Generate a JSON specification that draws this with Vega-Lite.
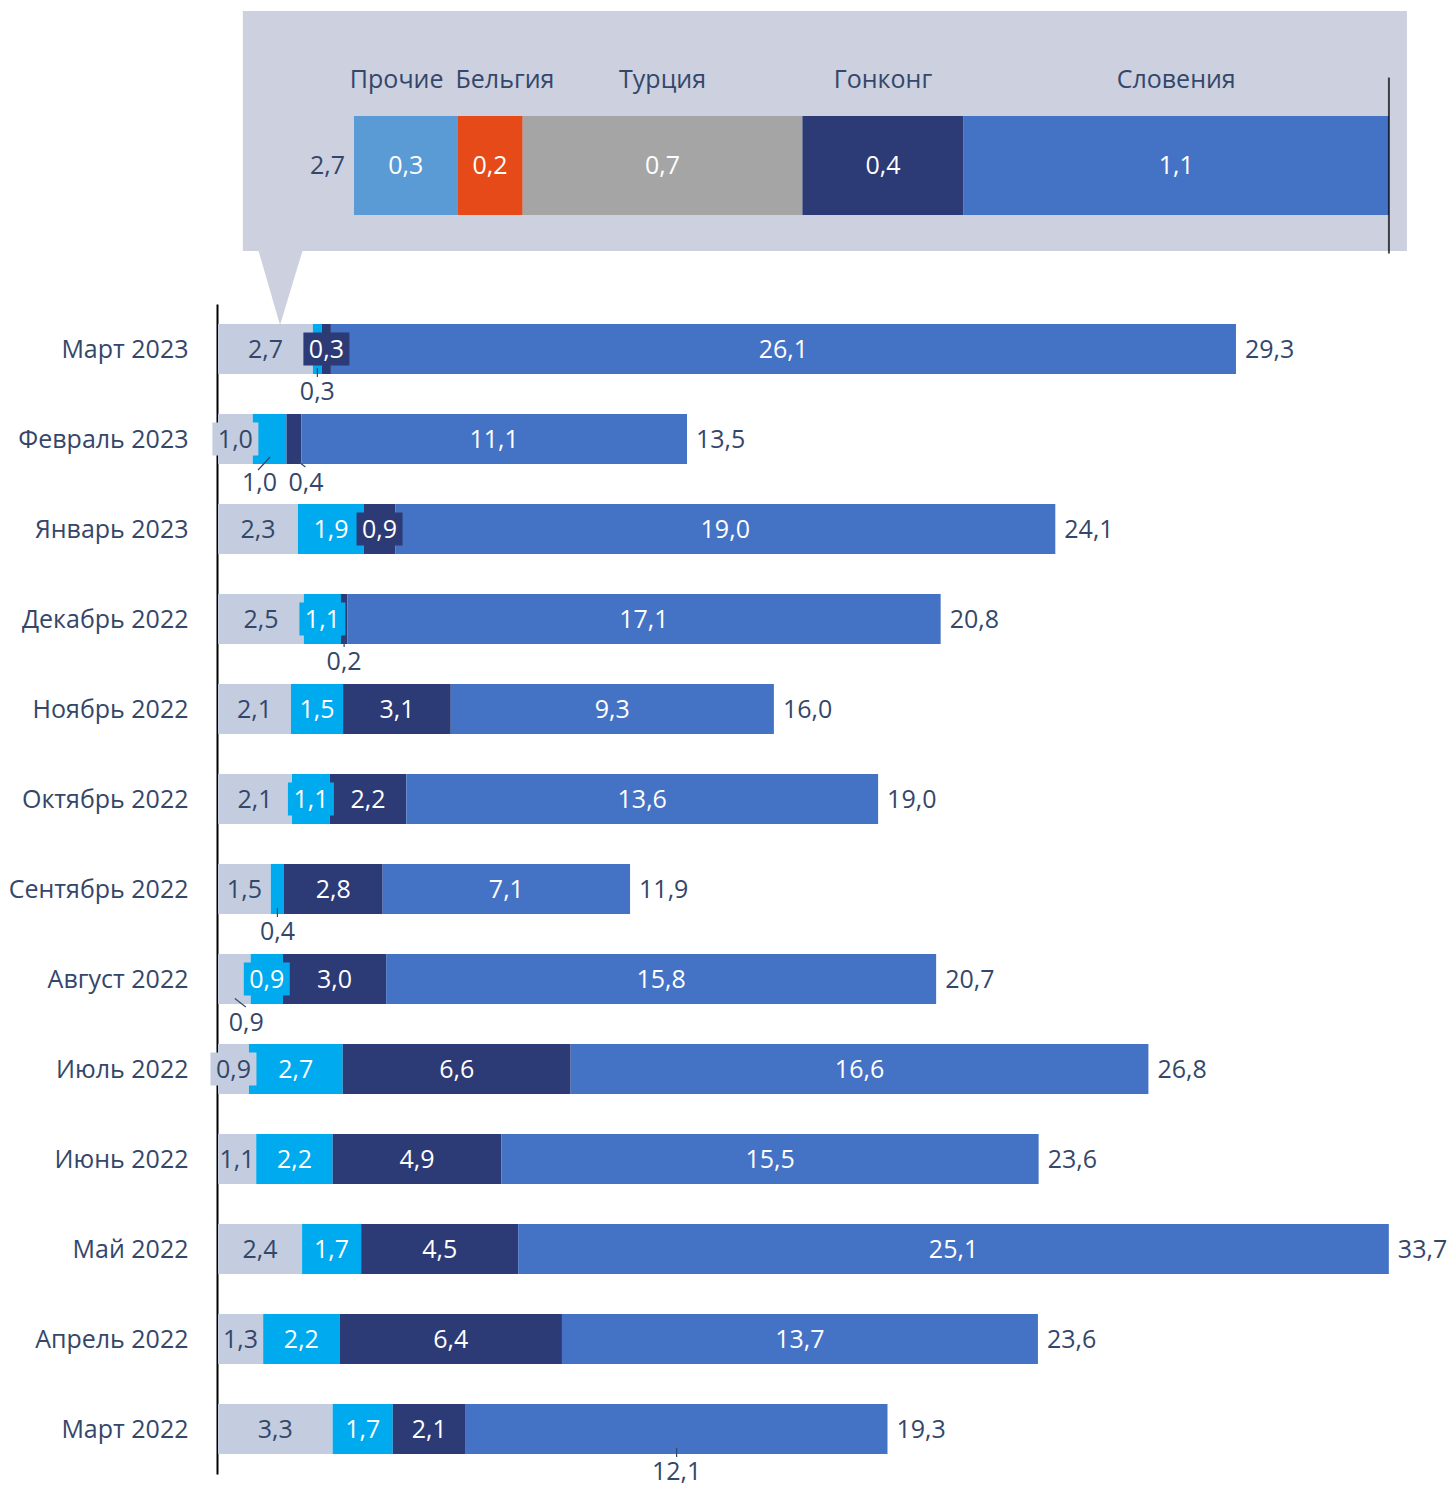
{
  "$schema": "https://vega.github.io/schema/vega-lite/v6.json",
  "background": "white",
  "padding": {"left": 8, "top": 11, "right": 0, "bottom": 0},
  "autosize": {"type": "pad"},
  "config": {
    "locale": {"number": {"decimal": ",", "thousands": " ", "grouping": [3], "currency": ["", ""]}},
    "view": {"stroke": null},
    "font": "Open Sans",
    "text": {"font": "Open Sans", "fontSize": 25}
  },
  "datasets": {
    "inset": [
      {"part": "Март 2023", "name": "Прочие", "order": 1, "value": 0.27},
      {"part": "Март 2023", "name": "Бельгия", "order": 2, "value": 0.17},
      {"part": "Март 2023", "name": "Турция", "order": 3, "value": 0.73},
      {"part": "Март 2023", "name": "Гонконг", "order": 4, "value": 0.42},
      {"part": "Март 2023", "name": "Словения", "order": 5, "value": 1.11}
    ],
    "months": [
      {"month": "Март 2023", "group": "Прочие", "order": 1, "value": 2.73, "pos": "in"},
      {"month": "Март 2023", "group": "Страна 3", "order": 2, "value": 0.26, "pos": "below"},
      {"month": "Март 2023", "group": "Страна 2", "order": 3, "value": 0.26, "pos": "box"},
      {"month": "Март 2023", "group": "Страна 1", "order": 4, "value": 26.05, "pos": "in"},
      {"month": "Февраль 2023", "group": "Прочие", "order": 1, "value": 1.0, "pos": "box"},
      {"month": "Февраль 2023", "group": "Страна 3", "order": 2, "value": 0.97, "pos": "belowL"},
      {"month": "Февраль 2023", "group": "Страна 2", "order": 3, "value": 0.43, "pos": "belowR"},
      {"month": "Февраль 2023", "group": "Страна 1", "order": 4, "value": 11.1, "pos": "in"},
      {"month": "Январь 2023", "group": "Прочие", "order": 1, "value": 2.3, "pos": "in"},
      {"month": "Январь 2023", "group": "Страна 3", "order": 2, "value": 1.9, "pos": "in"},
      {"month": "Январь 2023", "group": "Страна 2", "order": 3, "value": 0.9, "pos": "box"},
      {"month": "Январь 2023", "group": "Страна 1", "order": 4, "value": 19.0, "pos": "in"},
      {"month": "Декабрь 2022", "group": "Прочие", "order": 1, "value": 2.47, "pos": "in"},
      {"month": "Декабрь 2022", "group": "Страна 3", "order": 2, "value": 1.07, "pos": "box"},
      {"month": "Декабрь 2022", "group": "Страна 2", "order": 3, "value": 0.18, "pos": "below"},
      {"month": "Декабрь 2022", "group": "Страна 1", "order": 4, "value": 17.08, "pos": "in"},
      {"month": "Ноябрь 2022", "group": "Прочие", "order": 1, "value": 2.1, "pos": "in"},
      {"month": "Ноябрь 2022", "group": "Страна 3", "order": 2, "value": 1.5, "pos": "in"},
      {"month": "Ноябрь 2022", "group": "Страна 2", "order": 3, "value": 3.1, "pos": "in"},
      {"month": "Ноябрь 2022", "group": "Страна 1", "order": 4, "value": 9.3, "pos": "in"},
      {"month": "Октябрь 2022", "group": "Прочие", "order": 1, "value": 2.13, "pos": "in"},
      {"month": "Октябрь 2022", "group": "Страна 3", "order": 2, "value": 1.09, "pos": "box"},
      {"month": "Октябрь 2022", "group": "Страна 2", "order": 3, "value": 2.2, "pos": "in"},
      {"month": "Октябрь 2022", "group": "Страна 1", "order": 4, "value": 13.58, "pos": "in"},
      {"month": "Сентябрь 2022", "group": "Прочие", "order": 1, "value": 1.52, "pos": "in"},
      {"month": "Сентябрь 2022", "group": "Страна 3", "order": 2, "value": 0.38, "pos": "below"},
      {"month": "Сентябрь 2022", "group": "Страна 2", "order": 3, "value": 2.84, "pos": "in"},
      {"month": "Сентябрь 2022", "group": "Страна 1", "order": 4, "value": 7.12, "pos": "in"},
      {"month": "Август 2022", "group": "Прочие", "order": 1, "value": 0.94, "pos": "belowR"},
      {"month": "Август 2022", "group": "Страна 3", "order": 2, "value": 0.93, "pos": "box"},
      {"month": "Август 2022", "group": "Страна 2", "order": 3, "value": 2.97, "pos": "in"},
      {"month": "Август 2022", "group": "Страна 1", "order": 4, "value": 15.83, "pos": "in"},
      {"month": "Июль 2022", "group": "Прочие", "order": 1, "value": 0.89, "pos": "box"},
      {"month": "Июль 2022", "group": "Страна 3", "order": 2, "value": 2.7, "pos": "in"},
      {"month": "Июль 2022", "group": "Страна 2", "order": 3, "value": 6.56, "pos": "in"},
      {"month": "Июль 2022", "group": "Страна 1", "order": 4, "value": 16.63, "pos": "in"},
      {"month": "Июнь 2022", "group": "Прочие", "order": 1, "value": 1.1, "pos": "in"},
      {"month": "Июнь 2022", "group": "Страна 3", "order": 2, "value": 2.2, "pos": "in"},
      {"month": "Июнь 2022", "group": "Страна 2", "order": 3, "value": 4.86, "pos": "in"},
      {"month": "Июнь 2022", "group": "Страна 1", "order": 4, "value": 15.46, "pos": "in"},
      {"month": "Май 2022", "group": "Прочие", "order": 1, "value": 2.42, "pos": "in"},
      {"month": "Май 2022", "group": "Страна 3", "order": 2, "value": 1.7, "pos": "in"},
      {"month": "Май 2022", "group": "Страна 2", "order": 3, "value": 4.52, "pos": "in"},
      {"month": "Май 2022", "group": "Страна 1", "order": 4, "value": 25.06, "pos": "in"},
      {"month": "Апрель 2022", "group": "Прочие", "order": 1, "value": 1.3, "pos": "in"},
      {"month": "Апрель 2022", "group": "Страна 3", "order": 2, "value": 2.2, "pos": "in"},
      {"month": "Апрель 2022", "group": "Страна 2", "order": 3, "value": 6.4, "pos": "in"},
      {"month": "Апрель 2022", "group": "Страна 1", "order": 4, "value": 13.7, "pos": "in"},
      {"month": "Март 2022", "group": "Прочие", "order": 1, "value": 3.3, "pos": "in"},
      {"month": "Март 2022", "group": "Страна 3", "order": 2, "value": 1.73, "pos": "in"},
      {"month": "Март 2022", "group": "Страна 2", "order": 3, "value": 2.1, "pos": "in"},
      {"month": "Март 2022", "group": "Страна 1", "order": 4, "value": 12.14, "pos": "below"}
    ]
  },
  "spacing": 53,
  "bounds": "flush",
  "resolve": {"scale": {"x": "independent", "y": "independent", "color": "independent"}},
  "vconcat": [
    {
      "width": 1216,
      "height": 240,
      "layer": [
        {
          "data": {"values": [{}]},
          "mark": {"type": "rect", "color": "#CCD0DF"},
          "encoding": {
            "x": {"datum": -0.29, "type": "quantitative", "scale": {"domain": [-0.3548, 2.8176], "nice": false, "zero": false}, "axis": null},
            "x2": {"datum": 2.747}
          }
        },
        {
          "data": {"name": "inset"},
          "transform": [
            {"stack": "value", "groupby": ["part"], "sort": [{"field": "order", "order": "ascending"}], "as": ["x0", "x1"]},
            {"calculate": "(datum.x0 + datum.x1) / 2", "as": "mid"},
            {"joinaggregate": [{"op": "sum", "field": "value", "as": "tot"}]}
          ],
          "encoding": {
            "y": {"field": "part", "type": "nominal", "axis": null, "scale": {"paddingInner": 0, "paddingOuter": 0.712, "align": 0.745}}
          },
          "layer": [
            {
              "mark": {"type": "bar"},
              "encoding": {
                "x": {"field": "x0", "type": "quantitative", "axis": null},
                "x2": {"field": "x1"},
                "color": {"field": "name", "type": "nominal", "legend": null,
                  "scale": {"domain": ["Прочие", "Бельгия", "Турция", "Гонконг", "Словения"], "range": ["#5B9BD5", "#E64A19", "#A5A5A5", "#2C3A76", "#4472C4"]}}
              }
            },
            {
              "mark": {"type": "text", "color": "white", "fontSize": 25},
              "encoding": {
                "x": {"field": "mid", "type": "quantitative", "axis": null},
                "text": {"field": "value", "type": "quantitative", "format": ".1f"}
              }
            },
            {
              "transform": [{"filter": "datum.order >= 3"}],
              "mark": {"type": "text", "color": "#34476A", "fontSize": 25, "dy": -86},
              "encoding": {
                "x": {"field": "mid", "type": "quantitative", "axis": null},
                "text": {"field": "name"}
              }
            },
            {
              "transform": [{"filter": "datum.order === 1"}],
              "mark": {"type": "text", "color": "#34476A", "fontSize": 25, "dy": -86, "align": "right", "dx": -14},
              "encoding": {
                "x": {"field": "x1", "type": "quantitative", "axis": null},
                "text": {"field": "name"}
              }
            },
            {
              "transform": [{"filter": "datum.order === 2"}],
              "mark": {"type": "text", "color": "#34476A", "fontSize": 25, "dy": -86, "align": "left", "dx": -2},
              "encoding": {
                "x": {"field": "x0", "type": "quantitative", "axis": null},
                "text": {"field": "name"}
              }
            },
            {
              "transform": [{"filter": "datum.order === 1"}],
              "mark": {"type": "text", "color": "#34476A", "fontSize": 25, "align": "right", "dx": -9},
              "encoding": {
                "x": {"field": "x0", "type": "quantitative", "axis": null},
                "text": {"field": "tot", "type": "quantitative", "format": ".1f"}
              }
            },
            {
              "transform": [{"filter": "datum.order === 5"}],
              "mark": {"type": "tick", "color": "black", "thickness": 2},
              "encoding": {
                "x": {"field": "x1", "type": "quantitative", "axis": null},
                "size": {"value": 176}
              }
            }
          ]
        }
      ]
    },
    {
      "width": 1216,
      "height": 1170,
      "data": {"name": "months"},
      "transform": [
        {"stack": "value", "groupby": ["month"], "sort": [{"field": "order", "order": "ascending"}], "as": ["x0", "x1"]},
        {"calculate": "(datum.x0 + datum.x1) / 2", "as": "mid"}
      ],
      "encoding": {
        "y": {
          "field": "month", "type": "nominal", "title": null,
          "sort": ["Март 2023", "Февраль 2023", "Январь 2023", "Декабрь 2022", "Ноябрь 2022", "Октябрь 2022", "Сентябрь 2022", "Август 2022", "Июль 2022", "Июнь 2022", "Май 2022", "Апрель 2022", "Март 2022"],
          "scale": {"paddingInner": 0.444, "paddingOuter": 0.222},
          "axis": {"labelFontSize": 25, "labelFont": "Open Sans", "labelColor": "#34476A", "labelPadding": 29, "labelOffset": 1, "ticks": false, "domainColor": "black", "domainWidth": 2, "grid": false, "offset": 1}
        }
      },
      "layer": [
        {
          "mark": {"type": "bar"},
          "encoding": {
            "x": {"field": "x0", "type": "quantitative", "scale": {"domain": [0, 35], "nice": false}, "axis": null},
            "x2": {"field": "x1"},
            "color": {"field": "group", "type": "nominal", "legend": null,
              "scale": {"domain": ["Прочие", "Страна 3", "Страна 2", "Страна 1"], "range": ["#C3CDDF", "#00AAEF", "#2C3A76", "#4472C4"]}}
          }
        },
        {
          "transform": [{"filter": "datum.month === 'Март 2023' && datum.order === 1"}],
          "mark": {"type": "point", "shape": "M-0.74,-10L3.76,-10L1.46,-2.4Z", "filled": true, "color": "#CCD0DF", "opacity": 1, "size": 400, "strokeWidth": 0},
          "encoding": {"x": {"field": "mid", "type": "quantitative", "axis": null}}
        },
        {
          "transform": [{"filter": "datum.pos === 'box'"}],
          "mark": {"type": "point", "shape": "M-1,-0.72L1,-0.72L1,0.72L-1,0.72Z", "filled": true, "opacity": 1, "size": 2116, "strokeWidth": 0},
          "encoding": {
            "x": {"field": "mid", "type": "quantitative", "axis": null},
            "color": {"field": "group", "type": "nominal", "legend": null}
          }
        },
        {
          "transform": [{"filter": "datum.pos === 'in' || datum.pos === 'box'"}],
          "mark": {"type": "text", "fontSize": 25, "dy": 1},
          "encoding": {
            "x": {"field": "mid", "type": "quantitative", "axis": null},
            "text": {"field": "value", "type": "quantitative", "format": ".1f"},
            "color": {"condition": {"test": "datum.group === 'Прочие'", "value": "#34476A"}, "value": "white"}
          }
        },
        {
          "transform": [{"filter": "datum.pos === 'below'"}],
          "mark": {"type": "text", "fontSize": 25, "dy": 43, "color": "#34476A"},
          "encoding": {
            "x": {"field": "mid", "type": "quantitative", "axis": null},
            "text": {"field": "value", "type": "quantitative", "format": ".1f"}
          }
        },
        {
          "transform": [{"filter": "datum.pos === 'belowL'"}],
          "mark": {"type": "text", "fontSize": 25, "dy": 44, "dx": -10, "color": "#34476A"},
          "encoding": {
            "x": {"field": "mid", "type": "quantitative", "axis": null},
            "text": {"field": "value", "type": "quantitative", "format": ".1f"}
          }
        },
        {
          "transform": [{"filter": "datum.pos === 'belowR'"}],
          "mark": {"type": "text", "fontSize": 25, "dy": 44, "dx": 12, "color": "#34476A"},
          "encoding": {
            "x": {"field": "mid", "type": "quantitative", "axis": null},
            "text": {"field": "value", "type": "quantitative", "format": ".1f"}
          }
        },
        {
          "transform": [{"filter": "datum.pos === 'below'"}],
          "mark": {"type": "point", "shape": "M0,3.8L0,5.6", "filled": false, "color": "#34476A", "opacity": 1, "size": 100, "strokeWidth": 1.2},
          "encoding": {"x": {"field": "mid", "type": "quantitative", "axis": null}}
        },
        {
          "transform": [{"filter": "datum.pos === 'belowL'"}],
          "mark": {"type": "point", "shape": "M-2.3,6.2L0.1,3.6", "filled": false, "color": "#34476A", "opacity": 1, "size": 100, "strokeWidth": 1.2},
          "encoding": {"x": {"field": "mid", "type": "quantitative", "axis": null}}
        },
        {
          "transform": [{"filter": "datum.pos === 'belowR'"}],
          "mark": {"type": "point", "shape": "M0.1,3.9L2.3,5.6", "filled": false, "color": "#34476A", "opacity": 1, "size": 100, "strokeWidth": 1.2},
          "encoding": {"x": {"field": "mid", "type": "quantitative", "axis": null}}
        },
        {
          "transform": [{"filter": "datum.order === 4"}],
          "mark": {"type": "text", "fontSize": 25, "align": "left", "dx": 9, "dy": 1, "color": "#34476A"},
          "encoding": {
            "x": {"field": "x1", "type": "quantitative", "axis": null},
            "text": {"field": "x1", "type": "quantitative", "format": ".1f"}
          }
        }
      ]
    }
  ]
}
